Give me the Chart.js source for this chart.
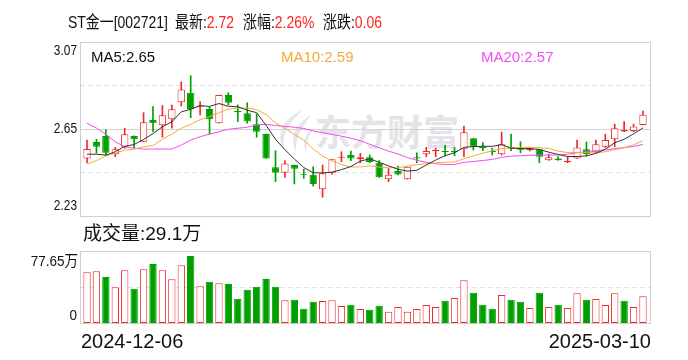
<!DOCTYPE html>
<html><head><meta charset="utf-8">
<script src="https://cdn.jsdelivr.net/npm/chart.js@4.4.1/dist/chart.umd.min.js"></script>
<style>
html,body{margin:0;padding:0;background:#fff;}
#wrap{position:relative;width:688px;height:360px;overflow:hidden;font-family:"Liberation Sans",Arial,"Noto Sans CJK SC",sans-serif;color:#111;}
canvas{position:absolute;left:0;top:0;}
.t{position:absolute;white-space:nowrap;line-height:1;transform-origin:0 0;}
.h{font-size:17px;top:14px;transform:scaleX(0.82);}
.r{color:#f22;}
#wm{position:absolute;left:315px;top:112px;font-family:"Noto Sans CJK SC",sans-serif;font-weight:bold;font-size:36px;line-height:1;color:#e4e4e8;white-space:nowrap;}
#logo{position:absolute;left:273px;top:108px;}
</style></head>
<body>
<div id="wrap">
  <svg id="logo" width="42" height="46" viewBox="0 0 42 46">
    <path d="M30 2 C 10 10, 1 28, 12 44 C 7 30, 15 15, 30 2 Z" fill="#e6e6ea"/>
    <path d="M38 7 C 23 15, 16 29, 23 44 C 22 30, 29 19, 38 7 Z" fill="#e6e6ea"/>
    <path d="M40 20 C 32 26, 29 35, 33 44 C 33 35, 36 28, 40 20 Z" fill="#e6e6ea"/>
  </svg>
  <div id="wm">东方财富</div>
  <canvas id="c" width="688" height="360"></canvas>
  <div class="t h" style="left:68px">ST金一[002721]</div>
  <div class="t h" style="left:175px">最新:<span class="r">2.72</span></div>
  <div class="t h" style="left:243px">涨幅:<span class="r">2.26%</span></div>
  <div class="t h" style="left:323px">涨跌:<span class="r">0.06</span></div>
  <div class="t" style="left:91px;top:49px;font-size:15px;color:#111">MA5:2.65</div>
  <div class="t" style="left:281px;top:49px;font-size:15px;color:#f4a93a">MA10:2.59</div>
  <div class="t" style="left:481px;top:49px;font-size:15px;color:#f04cf0">MA20:2.57</div>
  <div class="t" style="left:83px;top:224px;font-size:19px">成交量:29.1万</div>
  <div class="t" id="d0" style="left:81px;top:331px;font-size:20px"></div>
  <div class="t" id="d1" style="right:37px;top:331px;font-size:20px"></div>
</div>
<script>
// ---- data ----
const dates = ['2024-12-06', '2025-03-10'];
const priceTicks = [2.23, 2.44, 2.65, 2.86, 3.07];
const volTicks = [0, 38.825, 77.65];

const open  = [2.510,2.589,2.618,2.530,2.566,2.618,2.590,2.695,2.669,2.698,
               2.780,2.826,2.759,2.748,2.679,2.815,2.738,2.727,2.674,2.627,
               2.467,2.441,2.478,2.434,2.431,2.361,2.438,2.513,2.526,2.506,
               2.516,2.489,2.410,2.449,2.410,2.516,2.530,2.544,2.546,2.546,
               2.554,2.607,2.566,2.546,2.530,2.563,2.559,2.549,2.554,2.501,
               2.509,2.491,2.510,2.554,2.540,2.566,2.602,2.640,2.642,2.671];
const high  = [2.598,2.602,2.647,2.563,2.655,2.618,2.730,2.759,2.765,2.767,
               2.878,2.908,2.783,2.759,2.815,2.826,2.767,2.778,2.724,2.627,
               2.547,2.499,2.478,2.458,2.470,2.478,2.506,2.542,2.545,2.535,
               2.526,2.499,2.462,2.473,2.470,2.537,2.563,2.559,2.574,2.563,
               2.666,2.607,2.586,2.559,2.637,2.627,2.590,2.563,2.554,2.531,
               2.518,2.518,2.598,2.589,2.598,2.626,2.675,2.687,2.675,2.738];
const low   = [2.489,2.535,2.526,2.518,2.559,2.562,2.590,2.638,2.612,2.655,
               2.762,2.706,2.719,2.627,2.679,2.767,2.687,2.679,2.612,2.510,
               2.398,2.419,2.387,2.414,2.377,2.323,2.434,2.494,2.499,2.489,
               2.489,2.419,2.398,2.431,2.410,2.489,2.518,2.518,2.522,2.522,
               2.518,2.550,2.547,2.526,2.526,2.547,2.537,2.546,2.489,2.501,
               2.501,2.489,2.510,2.522,2.535,2.563,2.566,2.638,2.638,2.671];
const close = [2.555,2.566,2.537,2.554,2.626,2.602,2.684,2.679,2.717,2.746,
               2.842,2.748,2.765,2.698,2.815,2.778,2.732,2.687,2.638,2.510,
               2.441,2.486,2.460,2.431,2.387,2.438,2.506,2.517,2.509,2.516,
               2.493,2.419,2.431,2.433,2.470,2.510,2.546,2.550,2.541,2.540,
               2.636,2.566,2.559,2.541,2.578,2.557,2.552,2.559,2.518,2.516,
               2.501,2.499,2.563,2.531,2.578,2.598,2.655,2.647,2.663,2.720];
const ma5   = [2.530,2.530,2.526,2.542,2.568,2.577,2.601,2.629,2.662,2.686,
               2.734,2.746,2.764,2.760,2.774,2.761,2.758,2.742,2.730,2.669,
               2.602,2.552,2.507,2.466,2.441,2.440,2.444,2.456,2.471,2.497,
               2.508,2.491,2.474,2.458,2.449,2.453,2.478,2.502,2.523,2.537,
               2.563,2.567,2.568,2.568,2.576,2.560,2.557,2.557,2.553,2.540,
               2.529,2.519,2.519,2.522,2.534,2.554,2.585,2.602,2.628,2.657];
const ma10  = [2.483,2.499,2.522,2.535,2.550,2.554,2.566,2.572,2.602,2.627,
               2.655,2.674,2.696,2.711,2.730,2.747,2.752,2.753,2.745,2.721,
               2.681,2.655,2.625,2.598,2.555,2.521,2.498,2.481,2.469,2.469,
               2.474,2.468,2.465,2.465,2.473,2.480,2.484,2.488,2.491,2.493,
               2.508,2.522,2.535,2.546,2.557,2.561,2.562,2.563,2.561,2.558,
               2.545,2.538,2.538,2.537,2.537,2.542,2.552,2.561,2.575,2.596];
const ma20  = [2.679,2.656,2.626,2.590,2.566,2.559,2.555,2.555,2.555,2.555,
               2.574,2.598,2.614,2.627,2.638,2.650,2.655,2.660,2.671,2.674,
               2.668,2.664,2.660,2.654,2.642,2.634,2.625,2.617,2.607,2.595,
               2.578,2.561,2.545,2.531,2.514,2.501,2.491,2.485,2.480,2.481,
               2.491,2.495,2.500,2.505,2.515,2.521,2.523,2.525,2.526,2.526,
               2.526,2.530,2.537,2.542,2.547,2.551,2.557,2.562,2.568,2.577];
// volume in 万 and its colour (1 = up/red, 0 = down/green)
const vol   = [55.3,56.4,50.2,39.0,57.5,37.2,58.6,64.3,57.5,47.7,
               62.9,73.0,40.1,44.8,43.4,42.6,26.4,36.1,39.4,48.0,
               39.4,24.9,25.3,15.5,23.1,23.9,24.9,18.4,19.8,15.2,
               14.4,18.8,12.3,17.4,12.3,15.2,19.5,17.4,24.2,27.1,
               46.6,32.9,19.8,15.5,30.4,25.3,23.1,16.3,32.9,17.4,
               19.8,16.3,32.5,25.3,26.0,19.5,32.5,24.2,17.4,29.1];
const volUp = [1,1,0,1,1,0,1,0,1,1, 1,0,1,0,1,0,0,0,0,0,
               0,1,0,0,0,1,1,1,0,1, 0,0,1,1,1,1,1,1,0,1,
               1,0,0,0,1,0,0,1,0,1, 0,1,1,0,1,1,1,0,1,1];

// ---- styling ----
const RED = '#f02a2a', GREEN = '#00a000', WHITE = '#ffffff';
const up = close.map((c, i) => c >= open[i]);
const idx = close.map((_, i) => i);

document.getElementById('d0').textContent = dates[0];
document.getElementById('d1').textContent = dates[1];

function drawLabel(ctx, text, x, y, align, baseline, size, sx) {
  ctx.save();
  ctx.translate(x, y);
  ctx.scale(sx, 1);
  ctx.font = size + 'px "Liberation Sans", Arial, "Noto Sans CJK SC", sans-serif';
  ctx.fillStyle = '#111';
  ctx.textAlign = align;
  ctx.textBaseline = baseline;
  ctx.fillText(text, 0, 0);
  ctx.restore();
}

const decor = {
  id: 'decor',
  beforeDatasetsDraw(chart) {
    const { ctx, chartArea } = chart;
    const y = chart.scales.y, v = chart.scales.yv;
    const L = chartArea.left - 0.5, R = chartArea.right - 0.5;
    const snap = p => Math.floor(p) + 0.5;
    const hline = (py, color, dash) => {
      ctx.beginPath(); ctx.setLineDash(dash); ctx.strokeStyle = color;
      ctx.moveTo(L, py); ctx.lineTo(R, py); ctx.stroke();
    };
    ctx.save();
    ctx.lineWidth = 1;
    hline(snap(y.getPixelForValue(priceTicks[1])), '#dadada', [4, 4]);
    hline(snap(y.getPixelForValue(priceTicks[3])), '#dadada', [4, 4]);
    hline(snap(y.getPixelForValue(priceTicks[2])), '#d4d4d4', []);
    hline(snap(v.getPixelForValue(volTicks[1])), '#dadada', [4, 4]);
    ctx.setLineDash([]);
    ctx.strokeStyle = '#cfcfd4';
    const pt = snap(y.getPixelForValue(priceTicks[4])), pb = snap(y.getPixelForValue(priceTicks[0]));
    ctx.strokeRect(L, pt, R - L, pb - pt);
    const vt = snap(v.getPixelForValue(volTicks[2])), vb = snap(v.getPixelForValue(volTicks[0]));
    ctx.strokeRect(L, vt, R - L, vb - vt);
    ctx.restore();

    const lx = chartArea.left - 4;
    drawLabel(ctx, priceTicks[4].toFixed(2), lx, y.getPixelForValue(priceTicks[4]) + 2, 'right', 'top', 14, 0.85);
    drawLabel(ctx, priceTicks[2].toFixed(2), lx, y.getPixelForValue(priceTicks[2]), 'right', 'middle', 14, 0.85);
    drawLabel(ctx, priceTicks[0].toFixed(2), lx, y.getPixelForValue(priceTicks[0]) - 3, 'right', 'bottom', 14, 0.85);
    drawLabel(ctx, volTicks[2].toFixed(2) + '万', lx + 1, v.getPixelForValue(volTicks[2]) + 3, 'right', 'top', 15, 0.9);
    drawLabel(ctx, String(volTicks[0]), lx, v.getPixelForValue(volTicks[0]) - 3, 'right', 'alphabetic', 15, 0.9);
  }
};

const pts = arr => arr.map((val, i) => ({ x: i, y: val }));

new Chart(document.getElementById('c'), {
  type: 'bar',
  data: {
    datasets: [
      { type: 'line', label: 'MA5', data: pts(ma5), borderColor: '#333333', borderWidth: 1,
        pointRadius: 0, tension: 0, yAxisID: 'y', order: 0 },
      { type: 'line', label: 'MA10', data: pts(ma10), borderColor: '#f7a935', borderWidth: 1,
        pointRadius: 0, tension: 0, yAxisID: 'y', order: 0 },
      { type: 'line', label: 'MA20', data: pts(ma20), borderColor: '#f04cf0', borderWidth: 1,
        pointRadius: 0, tension: 0, yAxisID: 'y', order: 0 },
      { type: 'bar', label: 'body', data: idx.map(i => ({ x: i, y: [open[i], close[i]] })),
        backgroundColor: idx.map(i => up[i] ? WHITE : GREEN),
        borderColor: idx.map(i => up[i] ? RED : GREEN),
        borderWidth: 1, borderSkipped: false, minBarLength: 1,
        grouped: false, barPercentage: 0.78, categoryPercentage: 1, yAxisID: 'y', order: 1 },
      { type: 'bar', label: 'wick', data: idx.map(i => ({ x: i, y: [low[i], high[i]] })),
        backgroundColor: idx.map(i => up[i] ? RED : GREEN),
        borderWidth: 0, barThickness: 1, grouped: false, yAxisID: 'y', order: 2 },
      { type: 'bar', label: 'vol', data: idx.map(i => ({ x: i, y: vol[i] })),
        backgroundColor: idx.map(i => volUp[i] ? WHITE : GREEN),
        borderColor: idx.map(i => volUp[i] ? RED : GREEN),
        borderWidth: 1, borderSkipped: false,
        grouped: false, barPercentage: 0.78, categoryPercentage: 1, yAxisID: 'yv', order: 3 }
    ]
  },
  options: {
    responsive: false, animation: false, devicePixelRatio: 1,
    layout: { padding: { left: 81, right: 37, top: 42, bottom: 37 } },
    plugins: { legend: { display: false }, tooltip: { enabled: false } },
    scales: {
      x: { type: 'linear', min: -0.64, max: 59.85, display: false, offset: false },
      y: { type: 'linear', min: 1.7181, max: 3.07, display: false },
      yv: { type: 'linear', min: 0, max: 306.0, display: false }
    }
  },
  plugins: [decor]
});
</script>
</body></html>
